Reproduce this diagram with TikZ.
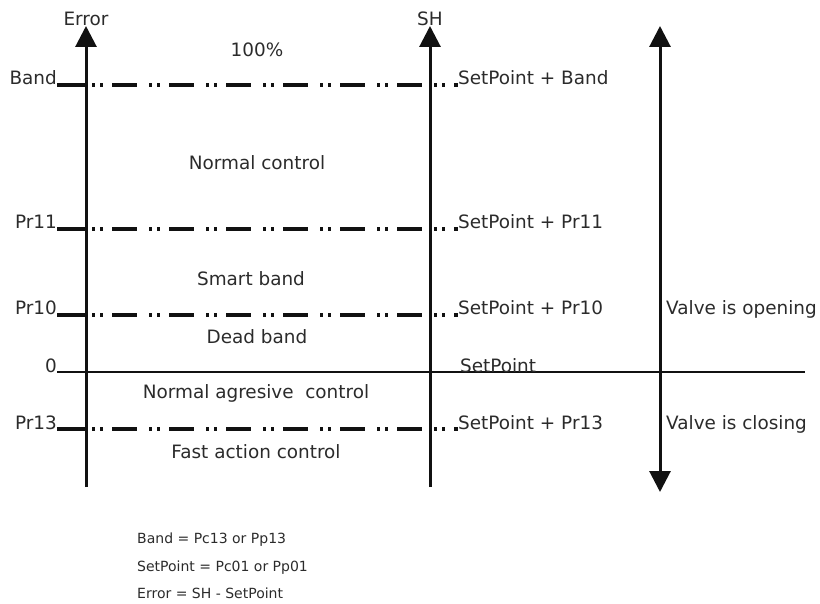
\documentclass[tikz,border=0pt]{standalone}
\usepackage{fontspec}
\setmainfont{DejaVu Sans}
\usepackage{tikz}
\usetikzlibrary{arrows.meta, positioning}
\definecolor{ink}{HTML}{111111}
\definecolor{labelgrey}{HTML}{2B2B2B}
\tikzset{
  axis/.style={line width=3pt, draw=ink, -{Triangle[length=21pt, width=21pt]}},
  twoway/.style={line width=3pt, draw=ink, {Triangle[length=21pt, width=21pt]}-{Triangle[length=21pt, width=21pt]}},
  level/.style={line width=3.5pt, draw=ink, dash pattern=on 3pt off 5pt on 3pt off 9pt on 25pt off 12pt},
  tick/.style={line width=3.5pt, draw=ink},
  zeroline/.style={line width=1.3pt, draw=ink},
  lbl/.style={font=\fontsize{18.4}{22}\selectfont, text=labelgrey, inner sep=0pt},
  note/.style={font=\fontsize{14}{17}\selectfont, text=labelgrey, inner sep=0pt, anchor=base west},
}

\begin{document}
\begin{tikzpicture}[x=1pt, y=-1pt]
  \useasboundingbox (0,0) rectangle (820,604);

  \foreach \nm/\yy in {Band/85, Pr11/229, Pr10/315, Pr13/429} {
    \coordinate (\nm-a) at (57,\yy);
    \coordinate (\nm-b) at (86,\yy);
    \coordinate (\nm-c) at (92,\yy);
    \coordinate (\nm-d) at (458,\yy);
    \draw[tick] (\nm-a) -- (\nm-b);
    \draw[level] (\nm-c) -- (\nm-d);
    \node[lbl, anchor=base east] (\nm-left) at (\nm-a) {\nm};
    \node[lbl, anchor=base west] (\nm-right) at (\nm-d) {SetPoint + \nm};
  }

  \coordinate (zero-a) at (57,372);
  \coordinate (zero-b) at (805,372);
  \coordinate (zero-c) at (460,372);
  \draw[zeroline] (zero-a) -- (zero-b);
  \node[lbl, anchor=base east] (zero-left) at (zero-a) {0};
  \node[lbl, anchor=base west] (zero-right) at (zero-c) {SetPoint};

  \coordinate (err-bot) at (86,487);
  \coordinate (err-top) at (86,26);
  \coordinate (sh-bot) at (430,487);
  \coordinate (sh-top) at (430,26);
  \coordinate (valve-bot) at (660,492);
  \coordinate (valve-top) at (660,26);
  \draw[axis] (err-bot) -- (err-top);
  \draw[axis] (sh-bot) -- (sh-top);
  \draw[twoway] (valve-bot) -- (valve-top);
  \node[lbl, anchor=south] (err-lbl) at (err-top) {Error};
  \node[lbl, anchor=south] (sh-lbl) at (sh-top) {SH};

  \node[lbl] (full) at (257,50) {100\%};
  \node[lbl] (normal) at (257,163) {Normal control};
  \node[lbl] (smart) at (251,279) {Smart band};
  \node[lbl] (dead) at (257,337) {Dead band};
  \node[lbl] (agresive) at (256,393) {Normal agresive\ \ control};
  \node[lbl] (fast) at (256,452) {Fast action control};

  \node[lbl, anchor=base west] (opening) at (666,315) {Valve is opening};
  \node[lbl, anchor=base west] (closing) at (666,429) {Valve is closing};

  \node[note] (def-band) at (137,543) {Band = Pc13 or Pp13};
  \node[note] (def-setpoint) at (137,571) {SetPoint = Pc01 or Pp01};
  \node[note] (def-error) at (137,598) {Error = SH - SetPoint};
\end{tikzpicture}
\end{document}
